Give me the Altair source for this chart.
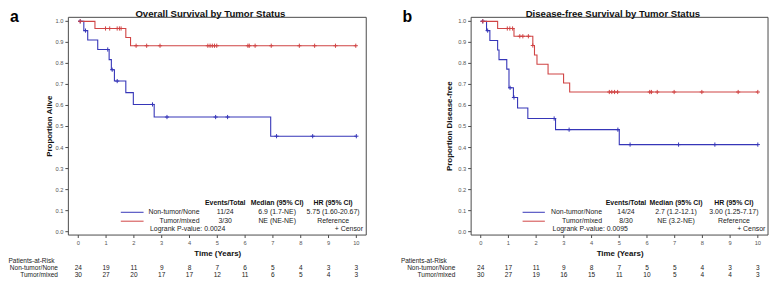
import altair as alt
import pandas as pd

# ------------------------------------------------------------------ data
YEARS = list(range(11))
GROUPS = ["Non-tumor/None", "Tumor/mixed"]
HEADERS = ["Events/Total", "Median (95% CI)", "HR (95% CI)"]
Y_TICKS = [round(i * 0.1, 1) for i in range(11)]

# Panel a: overall survival (times where the step curve changes, value after the change)
OS_NT_T = [0.0, 0.20, 0.34, 0.70, 1.11, 1.19, 1.30, 1.71, 1.98, 2.73, 6.92, 10.0]
OS_NT_S = [1.0, 0.956, 0.911, 0.866, 0.818, 0.770, 0.716, 0.661, 0.605, 0.545, 0.454, 0.454]
OS_NT_CENS = [0.07, 0.26, 1.06, 1.22, 1.40, 2.67, 3.19, 4.94, 5.37, 7.13, 8.43, 10.0]
OS_TM_T = [0.0, 0.60, 1.71, 1.88, 10.0]
OS_TM_S = [1.0, 0.966, 0.923, 0.884, 0.884]
OS_TM_CENS = [0.07, 0.98, 1.13, 1.40, 1.48, 1.54, 2.08, 2.46, 2.94, 4.66, 4.74, 4.82,
              4.90, 4.98, 6.10, 6.15, 6.36, 6.94, 7.95, 8.50, 9.25, 9.98]
OS_RISK_NT = [24, 19, 11, 9, 8, 7, 6, 5, 4, 3, 3]
OS_RISK_TM = [30, 27, 20, 17, 17, 12, 11, 6, 5, 4, 3]
OS_TABLE = [["Non-tumor/None", "11/24", "6.9 (1.7-NE)", "5.75 (1.60-20.67)"],
            ["Tumor/mixed", "3/30", "NE (NE-NE)", "Reference"]]
OS_PVAL = "Logrank P-value: 0.0024"

# Panel b: disease-free survival
DFS_NT_T = [0.0, 0.21, 0.33, 0.61, 0.66, 0.94, 1.02, 1.18, 1.33, 1.70, 2.70, 5.00, 10.0]
DFS_NT_S = [1.0, 0.956, 0.909, 0.864, 0.818, 0.773, 0.684, 0.638, 0.588, 0.538, 0.485, 0.414, 0.414]
DFS_NT_CENS = [0.07, 0.25, 1.06, 1.20, 2.65, 3.19, 4.95, 5.39, 7.14, 8.45, 10.0]
DFS_TM_T = [0.0, 0.61, 1.20, 1.88, 1.94, 2.03, 2.43, 2.99, 3.21, 10.0]
DFS_TM_S = [1.0, 0.966, 0.929, 0.885, 0.840, 0.796, 0.750, 0.707, 0.664, 0.664]
DFS_TM_CENS = [0.08, 0.96, 1.05, 1.15, 1.41, 1.52, 1.72, 1.88, 4.64, 4.73, 4.83, 4.94,
               6.10, 6.16, 6.37, 6.98, 7.98, 9.29, 10.0]
DFS_RISK_NT = [24, 17, 11, 9, 8, 7, 5, 5, 4, 3, 3]
DFS_RISK_TM = [30, 27, 19, 16, 15, 11, 10, 5, 4, 4, 3]
DFS_TABLE = [["Non-tumor/None", "14/24", "2.7 (1.2-12.1)", "3.00 (1.25-7.17)"],
             ["Tumor/mixed", "8/30", "NE (3.2-NE)", "Reference"]]
DFS_PVAL = "Logrank P-value: 0.0095"

# ------------------------------------------------------------------ style
COLORS = ["#3636b8", "#d04444"]
FRAME = "#4a4a4a"
LABEL = "#555555"
TEXT = "#222222"
FONT = "Liberation Sans"
PLUS = "M -1 0 L 1 0 M 0 -1 L 0 1"
YDOM = [-0.016, 1.019]
H = 220
ROW_Y = [188, 197, 206, 214.3]
RISK_Y = [246, 253.6, 260.4]


def step_at(ts, ss, c):
    v = ss[0]
    for t, s in zip(ts, ss):
        if t <= c:
            v = s
    return v


def text_layer(label, x, y, align="center", size=7.0, bold=False, color=TEXT,
               baseline="middle", angle=0):
    return alt.Chart(pd.DataFrame({"label": [label]})).mark_text(
        align=align, baseline=baseline, fontSize=size, angle=angle,
        fontWeight="bold" if bold else "normal", color=color, font=FONT
    ).encode(x=alt.value(x), y=alt.value(y), text="label:N")


def make_panel(p):
    x0, w = p["x0"], p["w"]
    xs = alt.Scale(domain=p["xdom"], range=[x0, x0 + w], nice=False, zero=False)
    ys = alt.Scale(domain=YDOM, nice=False, zero=False)
    cs = alt.Scale(domain=GROUPS, range=COLORS)

    nt_t, nt_s, tm_t, tm_s = p["curves"]
    lines = pd.DataFrame({
        "t": nt_t + tm_t, "s": nt_s + tm_s,
        "group": [GROUPS[0]] * len(nt_t) + [GROUPS[1]] * len(tm_t),
    })
    nt_c, tm_c = p["cens"]
    cens = pd.DataFrame({
        "t": nt_c + tm_c,
        "s": [step_at(nt_t, nt_s, c) for c in nt_c] + [step_at(tm_t, tm_s, c) for c in tm_c],
        "group": [GROUPS[0]] * len(nt_c) + [GROUPS[1]] * len(tm_c),
    })
    frame_df = pd.DataFrame({"xa": [p["xdom"][0]], "xb": [p["xdom"][1]],
                             "ya": [YDOM[0]], "yb": [YDOM[1]]})
    xt = pd.DataFrame({"v": YEARS})
    yt = pd.DataFrame({"v": Y_TICKS, "lab": [f"{v:.1f}" for v in Y_TICKS]})

    layers = []
    # frame
    layers.append(alt.Chart(frame_df).mark_rect(fillOpacity=0, stroke=FRAME, strokeWidth=1).encode(
        x=alt.X("xa:Q", scale=xs, axis=None), x2="xb:Q",
        y=alt.Y("ya:Q", scale=ys, axis=None), y2="yb:Q"))
    # x axis ticks + labels
    layers.append(alt.Chart(xt).mark_rule(color=FRAME, strokeWidth=1).encode(
        x=alt.X("v:Q", scale=xs, axis=None), y=alt.value(H), y2=alt.value(H + 3)))
    layers.append(alt.Chart(xt).mark_text(fontSize=5.8, color=LABEL, font=FONT, baseline="middle").encode(
        x=alt.X("v:Q", scale=xs, axis=None), y=alt.value(H + 8), text="v:Q"))
    # y axis ticks + labels
    layers.append(alt.Chart(yt).mark_rule(color=FRAME, strokeWidth=1).encode(
        y=alt.Y("v:Q", scale=ys, axis=None), x=alt.value(x0 - 3), x2=alt.value(x0)))
    layers.append(alt.Chart(yt).mark_text(fontSize=5.8, color=LABEL, font=FONT, align="right",
                                          baseline="middle").encode(
        y=alt.Y("v:Q", scale=ys, axis=None), x=alt.value(x0 - 5), text="lab:N"))
    # axis titles
    L = p["leg"]
    layers.append(text_layer("Time (Years)", x0 + L["xt_c"], H + 19.5, size=8, bold=True, color="#111"))
    layers.append(text_layer(p["ytitle"], x0 + L["yt_x"], 110, size=8, bold=True, color="#111",
                             angle=270))
    # curves and censor marks
    layers.append(alt.Chart(lines).mark_line(interpolate="step-after", strokeWidth=1.1).encode(
        x=alt.X("t:Q", scale=xs, axis=None),
        y=alt.Y("s:Q", scale=ys, axis=None),
        color=alt.Color("group:N", scale=cs, legend=None)))
    layers.append(alt.Chart(cens).mark_point(shape=PLUS, size=18, strokeWidth=1, filled=False,
                                             opacity=1).encode(
        x=alt.X("t:Q", scale=xs, axis=None),
        y=alt.Y("s:Q", scale=ys, axis=None),
        color=alt.Color("group:N", scale=cs, legend=None)))

    # legend table inside the plot
    for i, g in enumerate(GROUPS):
        layers.append(alt.Chart(pd.DataFrame({"group": [g]})).mark_rule(strokeWidth=1).encode(
            x=alt.value(x0 + L["line"][0]), x2=alt.value(x0 + L["line"][1]),
            y=alt.value(ROW_Y[1 + i]),
            color=alt.Color("group:N", scale=cs, legend=None)))
    for j, h in enumerate(HEADERS):
        layers.append(text_layer(h, x0 + L["cols"][j], ROW_Y[0], bold=True, color="#111"))
    for i, row in enumerate(p["table"]):
        layers.append(text_layer(row[0], x0 + L["label_r"], ROW_Y[1 + i], align="right"))
        for j in range(3):
            layers.append(text_layer(row[1 + j], x0 + L["cols"][j], ROW_Y[1 + i]))
    layers.append(text_layer(p["pval"], x0 + L["pval_l"], ROW_Y[3], align="left"))
    layers.append(text_layer("+ Censor", x0 + L["cens_r"], ROW_Y[3], align="right"))

    # title and panel letter
    layers.append(text_layer(p["title"], x0 + L["title_c"], -3.5, size=9.7, bold=True, color="#111"))
    layers.append(text_layer(p["letter"], x0 + L["letter_l"], 5, align="left", size=16, bold=True,
                             color="#000", baseline="alphabetic"))

    # patients at risk
    layers.append(text_layer("Patients-at-Risk", x0 + L["risk_l"], RISK_Y[0], align="left", size=6.6))
    for i, g in enumerate(GROUPS):
        layers.append(text_layer(g, x0 + L["risk_r"], RISK_Y[1 + i], align="right", size=6.6))
        rk = pd.DataFrame({"t": YEARS, "n": p["risk"][i]})
        layers.append(alt.Chart(rk).mark_text(fontSize=6.6, color=TEXT, font=FONT,
                                              baseline="middle").encode(
            x=alt.X("t:Q", scale=xs, axis=None), y=alt.value(RISK_Y[1 + i]), text="n:Q"))
    return alt.layer(*layers)


PANEL_A = dict(
    x0=0, w=301, xdom=[-0.356, 10.356], ytitle="Proportion Alive",
    curves=(OS_NT_T, OS_NT_S, OS_TM_T, OS_TM_S), cens=(OS_NT_CENS, OS_TM_CENS),
    risk=(OS_RISK_NT, OS_RISK_TM), table=OS_TABLE, pval=OS_PVAL,
    title="Overall Survival by Tumor Status", letter="a",
    leg=dict(line=(53, 76), label_r=132.5, cols=(158.5, 211, 267.5), pval_l=82.5, cens_r=297.7,
             title_c=143.5, letter_l=-59, risk_l=-60.5, risk_r=-10.5, xt_c=151, yt_x=-19),
)
PANEL_B = dict(
    x0=407, w=300, xdom=[-0.346, 10.368], ytitle="Proportion Disease-free",
    curves=(DFS_NT_T, DFS_NT_S, DFS_TM_T, DFS_TM_S), cens=(DFS_NT_CENS, DFS_TM_CENS),
    risk=(DFS_RISK_NT, DFS_RISK_TM), table=DFS_TABLE, pval=DFS_PVAL,
    title="Disease-free Survival by Tumor Status", letter="b",
    leg=dict(line=(52, 74.5), label_r=132.3, cols=(156.5, 207, 265.5), pval_l=82.3, cens_r=297.3,
             title_c=143.2, letter_l=-69.3, risk_l=-71, risk_r=-16, xt_c=150.5, yt_x=-21),
)

chart = alt.layer(make_panel(PANEL_A), make_panel(PANEL_B)).resolve_scale(
    x="independent", y="independent"
).properties(
    width=707, height=H,
    autosize=alt.AutoSizeParams(type="none"),
    padding={"left": 61, "top": 8, "right": 2, "bottom": 45},
).configure_view(stroke=None)

chart.save("out.html", embed_options={"renderer": "svg", "actions": False})
